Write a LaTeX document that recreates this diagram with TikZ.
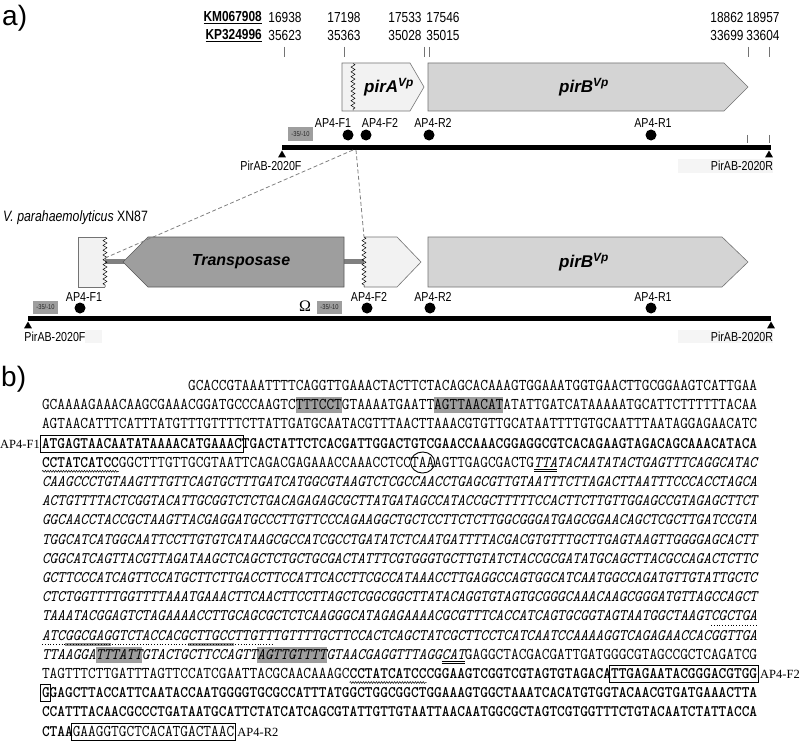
\documentclass[tikz,border=0pt]{standalone}
\usepackage{fontspec}
\usepackage{graphicx}
\setmainfont{Liberation Serif}
\newfontfamily\nsans[FakeStretch=0.82]{Liberation Sans}
\newfontfamily\wsans{Liberation Sans}
\usetikzlibrary{decorations.pathmorphing,shapes.geometric}
\newlength\mesw
\newcounter{segc}
\AtBeginDocument{%
\settowidth\mesw{\ttfamily\fontsize{20}{20}\selectfont AAAAAAAAAA}%
\pgfmathsetmacro\tmpa{7.69*200/\mesw}\xdef\seqsz{\tmpa}%
\settowidth\mesw{\ttfamily\bfseries\fontsize{20}{20}\selectfont AAAAAAAAAA}%
\pgfmathsetmacro\tmpa{7.69*200/\mesw}\xdef\seqszb{\tmpa}%
\settowidth\mesw{\ttfamily\itshape\fontsize{20}{20}\selectfont AAAAAAAAAA}%
\pgfmathsetmacro\tmpa{7.69*200/\mesw}\xdef\seqszi{\tmpa}%
}
\newcommand\Ln[1]{390.5+(#1-1)*19.2}
\newcommand\Xc[1]{42+(#1)*7.69}
\newcommand\Sg[4][]{\stepcounter{segc}\node[seg,#1] (sg\arabic{segc}) at ({\Xc{#3}},{\Ln{#2}}) {\scalebox{1}[1.1]{#4}};}
\newcommand\Hl[3]{\fill[hlc] ({\Xc{#2}},{\Ln{#1}-12.5}) rectangle ({\Xc{#3+1}},{\Ln{#1}+3.6});}
\newcommand\Bx[3]{\draw[pbox] ({\Xc{#2}-1.2},{\Ln{#1}-13}) rectangle ({\Xc{#3+1}+1.2},{\Ln{#1}+4});}
\newcommand\Gb[3]{\draw[draw=black!45, line width=3.2pt] ({\Xc{#2}},{\Ln{#1}+4.6}) -- ({\Xc{#3+1}},{\Ln{#1}+4.6});}
\newcommand\Dul[3]{\draw[line width=0.7pt] ({\Xc{#2}},{\Ln{#1}+2.2}) -- ({\Xc{#3+1}},{\Ln{#1}+2.2});\draw[line width=0.7pt] ({\Xc{#2}},{\Ln{#1}+3.9}) -- ({\Xc{#3+1}},{\Ln{#1}+3.9});}
\newcommand\Wv[3]{\draw[decorate,decoration={snake,amplitude=0.9pt,segment length=2.6pt},line width=0.5pt] ({\Xc{#2}},{\Ln{#1}+4}) -- ({\Xc{#3+1}},{\Ln{#1}+4});}
\newcommand\Dt[3]{\draw[dotted,line width=0.8pt] ({\Xc{#2}},{\Ln{#1}+4.6}) -- ({\Xc{#3+1}},{\Ln{#1}+4.6});}
\begin{document}
\begin{tikzpicture}[x=1pt,y=-1pt,
  seg/.style={anchor=base west, inner sep=0pt, outer sep=0pt, font=\ttfamily\fontsize{\seqsz}{\seqsz}\selectfont},
  segb/.style={font=\ttfamily\bfseries\fontsize{\seqszb}{\seqszb}\selectfont},
  segi/.style={font=\ttfamily\itshape\fontsize{\seqszi}{\seqszi}\selectfont},
  num/.style={inner sep=0pt, font=\nsans\fontsize{14.5}{15}\selectfont},
  lab/.style={inner sep=0pt, font=\nsans\fontsize{13}{14}\selectfont},
  glab/.style={inner sep=0pt, font=\wsans\bfseries\itshape\fontsize{17}{17}\selectfont},
  plab/.style={inner sep=0pt, font=\fontsize{12.5}{13}\selectfont},
  gl/.style={fill=black!5, draw=black!55, line width=0.6pt},
  gm/.style={fill=black!17, draw=black!55, line width=0.6pt},
  gd/.style={fill=black!38, draw=black!65, line width=0.6pt},
  zz/.style={decorate, decoration={zigzag, amplitude=2pt, segment length=4.8pt}, line width=0.5pt},
  dotm/.style={circle, fill=black, inner sep=0pt, minimum size=11pt},
  prom/.style={fill=black!38, inner sep=0pt, minimum width=25pt, minimum height=13pt, font=\nsans\fontsize{7}{7}\selectfont, text=black!85},
  mbar/.style={line width=5pt},
  endtri/.style={regular polygon, regular polygon sides=3, fill=black, inner sep=0pt, minimum size=9pt},
  tkl/.style={draw=black!55, line width=0.5pt},
  dsh/.style={dash pattern=on 4pt off 2.5pt, draw=black!50, line width=0.8pt},
  hlc/.style={fill=black!38},
  pbox/.style={draw=black, line width=0.9pt},
  conn/.style={draw=black!50, line width=5pt}
]
\useasboundingbox (0,0) rectangle (800,741);
\fill[white] (0,0) rectangle (800,741);

% ---------- part a ----------
\node[anchor=west, inner sep=0pt, font=\wsans\fontsize{28}{28}\selectfont] (la) at (2,18) {a)};
\node[num, anchor=east, font=\nsans\bfseries\fontsize{14.5}{15}\selectfont] (km) at (262,18) {\underline{KM067908}};
\node[num, anchor=east, font=\nsans\bfseries\fontsize{14.5}{15}\selectfont] (kp) at (262,36) {\underline{KP324996}};
\node[num] (a1) at (285,18) {16938};  \node[num] (b1) at (285,36) {35623};
\node[num] (a2) at (344,18) {17198};  \node[num] (b2) at (344,36) {35363};
\node[num] (a3) at (405,18) {17533};  \node[num] (b3) at (405,36) {35028};
\node[num] (a4) at (443,18) {17546};  \node[num] (b4) at (443,36) {35015};
\node[num] (a5) at (727,18) {18862};  \node[num] (b5) at (727,36) {33699};
\node[num] (a6) at (763,18) {18957};  \node[num] (b6) at (763,36) {33604};
\foreach \t in {284,344,424,429,748,769} \draw[tkl] (\t,47) -- (\t,57);

\filldraw[gl] (342,63) -- (410,63) -- (424,87) -- (410,111) -- (342,111) -- cycle;
\draw[zz] (353,63.5) -- (353,110.5);
\node[glab] (pirA) at (389,87) {pirA\textsuperscript{Vp}};
\filldraw[gm] (428,63) -- (724,63) -- (748,87) -- (724,111) -- (428,111) -- cycle;
\node[glab] (pirB1) at (584,87) {pirB\textsuperscript{Vp}};

\node[lab] (uf1) at (333,123) {AP4-F1};
\node[lab] (uf2) at (380,123) {AP4-F2};
\node[lab] (ur2) at (433,123) {AP4-R2};
\node[lab] (ur1) at (653,123) {AP4-R1};
\node[dotm] (ud1) at (348,135) {};
\node[dotm] (ud2) at (366,135) {};
\node[dotm] (ud3) at (429,135) {};
\node[dotm] (ud4) at (651,135) {};
\node[prom] (up) at (300.5,134) {-35/-10};
\draw[tkl] (747,135) -- (747,143);
\draw[tkl] (769,135) -- (769,143);
\coordinate (tbL) at (282,147);
\coordinate (tbR) at (771,147);
\draw[mbar] (tbL) -- (tbR);
\node[endtri] (ut1) at (282,155) {};
\node[endtri] (ut2) at (769,155) {};
\fill[black!4] (678,159) rectangle (773,173);
\node[lab] (upf) at (271,166) {PirAB-2020F};
\node[lab] (upr) at (742,166) {PirAB-2020R};

% ---------- lower map ----------
\node[anchor=west, inner sep=0pt, font=\nsans\fontsize{15}{16}\selectfont] (vp) at (3,218) {\itshape V. parahaemolyticus\/ \upshape XN87};
\draw[conn] (105,261) -- (125,261);
\draw[conn] (344,261) -- (364,261);
\fill[black!5] (78,237) rectangle (105,287);
\draw[black!55, line width=0.6pt] (105,237) -- (78,237) -- (78,287) -- (105,287);
\draw[zz] (105,237) -- (105,287);
\filldraw[gd] (123,262) -- (148,237) -- (344,237) -- (344,287) -- (148,287) -- cycle;
\node[glab, font=\wsans\bfseries\itshape\fontsize{16}{16}\selectfont] (tp) at (241,262) {Transposase};
\fill[black!5] (364,237) -- (397,237) -- (421,262) -- (397,287) -- (364,287) -- cycle;
\draw[black!55, line width=0.6pt] (364,237) -- (397,237) -- (421,262) -- (397,287) -- (364,287);
\draw[zz] (364,237) -- (364,287);
\filldraw[gm] (428,237) -- (722,237) -- (748,262) -- (722,287) -- (428,287) -- cycle;
\node[glab] (pirB2) at (584,262) {pirB\textsuperscript{Vp}};

\coordinate (dA) at (353,150);
\coordinate (dB) at (356,150);
\coordinate (dA2) at (105,258);
\coordinate (dB2) at (364,237);
\draw[dsh] (dA) -- (dA2);
\draw[dsh] (dB) -- (dB2);

\node[prom] (lp1) at (45.5,307) {-35/-10};
\node[lab] (lf1) at (84,297) {AP4-F1};
\node[dotm] (ld1) at (80,308) {};
\node[inner sep=0pt, font=\fontsize{16}{16}\selectfont] (om) at (305,306) {Ω};
\node[prom] (lp2) at (329.5,307) {-35/-10};
\node[lab] (lf2) at (369,297) {AP4-F2};
\node[dotm] (ld2) at (367,308) {};
\node[lab] (lr2) at (433,297) {AP4-R2};
\node[dotm] (ld3) at (430,308) {};
\node[lab] (lr1) at (653,297) {AP4-R1};
\node[dotm] (ld4) at (651,308) {};
\coordinate (lbL) at (28,318);
\coordinate (lbR) at (771,318);
\draw[mbar] (lbL) -- (lbR);
\node[endtri] (lt1) at (28,326) {};
\node[endtri] (lt2) at (771,326) {};
\fill[black!4] (85,330) rectangle (102,343);
\fill[black!4] (678,330) rectangle (773,343);
\node[lab] (lpf) at (55,337) {PirAB-2020F};
\node[lab] (lpr) at (742,337) {PirAB-2020R};

% ---------- part b ----------
\node[anchor=west, inner sep=0pt, font=\wsans\fontsize{28}{28}\selectfont] (lb) at (1,379) {b)};
\Hl{2}{33}{38}\Hl{2}{51}{59}
\Hl{15}{7}{12}\Hl{15}{28}{36}

\Sg{1}{19}{GCACCGTAAATTTTCAGGTTGAAACTACTTCTACAGCACAAAGTGGAAATGGTGAACTTGCGGAAGTCATTGAA}
\Sg{2}{0}{GCAAAAGAAACAAGCGAAACGGATGCCCAAGTCTTTCCTGTAAAATGAATTAGTTAACATATATTGATCATAAAAATGCATTCTTTTTTACAA}
\Sg{3}{0}{AGTAACATTTCATTTATGTTTGTTTTCTTATTGATGCAATACGTTTAACTTAAACGTGTTGCATAATTTTGTGCAATTTAATAGGAGAACATC}
\node[plab, anchor=base east] (f1) at (40,{\Ln{4}}) {AP4-F1};
\Sg[segb]{4}{0}{ATGAGTAACAATATAAAACATGAAACTGACTATTCTCACGATTGGACTGTCGAACCAAACGGAGGCGTCACAGAAGTAGACAGCAAACATACA}
\Bx{4}{0}{25}
\Sg[segb]{5}{0}{CCTATCATCC}
\Wv{5}{0}{9}
\Sg{5}{10}{GGCTTTGTTGCGTAATTCAGACGAGAAACCAAACCTCCTAAAGTTGAGCGACTG}
\Sg[segi]{5}{64}{TTATACAATATACTGAGTTTCAGGCATAC}
\Dul{5}{64}{66}
\node[draw, ellipse, line width=0.9pt, minimum width=24pt, minimum height=21pt, inner sep=0pt] (stopc) at ({\Xc{49.5}},{\Ln{5}-4.8}) {};
\Sg[segi]{6}{0}{CAAGCCCTGTAAGTTTGTTCAGTGCTTTGATCATGGCGTAAGTCTCGCCAACCTGAGCGTTGTAATTTCTTAGACTTAATTTCCCACCTAGCA}
\Sg[segi]{7}{0}{ACTGTTTTACTCGGTACATTGCGGTCTCTGACAGAGAGCGCTTATGATAGCCATACCGCTTTTTCCACTTCTTGTTGGAGCCGTAGAGCTTCT}
\Sg[segi]{8}{0}{GGCAACCTACCGCTAAGTTACGAGGATGCCCTTGTTCCCAGAAGGCTGCTCCTTCTCTTGGCGGGATGAGCGGAACAGCTCGCTTGATCCGTA}
\Sg[segi]{9}{0}{TGGCATCATGGCAATTCCTTGTGTCATAAGCGCCATCGCCTGATATCTCAATGATTTTACGACGTGTTTGCTTGAGTAAGTTGGGGAGCACTT}
\Sg[segi]{10}{0}{CGGCATCAGTTACGTTAGATAAGCTCAGCTCTGCTGCGACTATTTCGTGGGTGCTTGTATCTACCGCGATATGCAGCTTACGCCAGACTCTTC}
\Sg[segi]{11}{0}{GCTTCCCATCAGTTCCATGCTTCTTGACCTTCCATTCACCTTCGCCATAAACCTTGAGGCCAGTGGCATCAATGGCCAGATGTTGTATTGCTC}
\Sg[segi]{12}{0}{CTCTGGTTTTGGTTTTAAATGAAACTTCAACTTCCTTAGCTCGGCGGCTTATACAGGTGTAGTGCGGGCAAACAAGCGGGATGTTAGCCAGCT}
\Sg[segi]{13}{0}{TAAATACGGAGTCTAGAAAACCTTGCAGCGCTCTCAAGGGCATAGAGAAAACGCGTTTCACCATCAGTGCGGTAGTAATGGCTAAGTCGCTGA}
\Dt{13}{87}{92}
\Gb{14}{3}{8}\Gb{14}{19}{24}\Dt{14}{0}{29}
\Sg[segi]{14}{0}{ATCGGCGAGGTCTACCACGCTTGCCTTGTTTGTTTTGCTTCCACTCAGCTATCGCTTCCTCATCAATCCAAAAGGTCAGAGAACCACGGTTGA}
\Sg[segi]{15}{0}{TTAAGGATTTATTGTACTGCTTCCAGTTAGTTGTTTTGTAACGAGGTTTAGGCAT}
\Sg{15}{55}{GAGGCTACGACGATTGATGGGCGTAGCCGCTCAGATCG}
\Dul{15}{52}{54}
\Sg{16}{0}{TAGTTTCTTGATTTAGTTCCATCGAATTACGCAACAAAGC}
\Sg[segb]{16}{40}{CCTATCATCCCGGAAGTCGGTCGTAGTGTAGACATTGAGAATACGGGACGTGG}
\Wv{16}{40}{49}
\Bx{16}{74}{92}
\node[plab, anchor=base west] (f2) at (760,{\Ln{16}}) {AP4-F2};
\Sg[segb]{17}{0}{GGAGCTTACCATTCAATACCAATGGGGTGCGCCATTTATGGCTGGCGGCTGGAAAGTGGCTAAATCACATGTGGTACAACGTGATGAAACTTA}
\Bx{17}{0}{0}
\Sg[segb]{18}{0}{CCATTTACAACGCCCTGATAATGCATTCTATCATCAGCGTATTGTTGTAATTAACAATGGCGCTAGTCGTGGTTTCTGTACAATCTATTACCA}
\Sg[segb]{19}{0}{CTAA}
\Sg{19}{4}{GAAGGTGCTCACATGACTAAC}
\Bx{19}{4}{24}
\node[plab, anchor=base west] (r2) at ({\Xc{25}+3},{\Ln{19}}) {AP4-R2};
\end{tikzpicture}
\end{document}
